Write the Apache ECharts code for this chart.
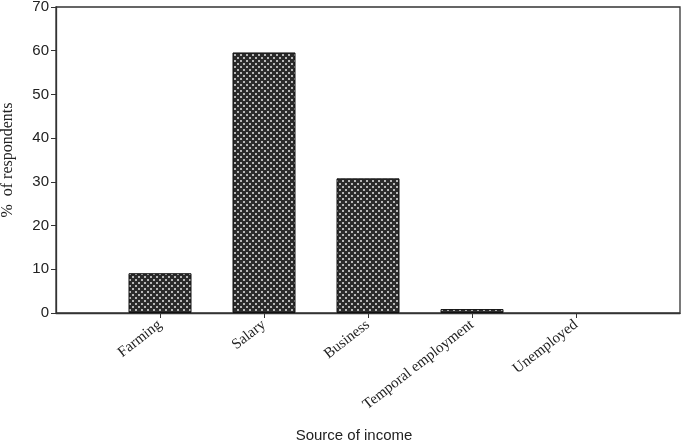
<!DOCTYPE html>
<html>
<head>
<meta charset="utf-8">
<script src="https://cdn.jsdelivr.net/npm/echarts@6/dist/echarts.min.js"></script>
<style>
  html, body { margin: 0; padding: 0; background: #fff; }
  #chart { width: 685px; height: 445px; }
</style>
</head>
<body>
<div id="chart"></div>
<script>
// empty slots at both ends keep the bars where the original axis puts them
const categories = ['', 'Farming', 'Salary', 'Business', 'Temporal employment', 'Unemployed', '']
const percentValues = [null, 9.1, 59.6, 30.8, 0.9, null, null]
const yTicks = { min: 0, max: 70, interval: 10 }

// dotted fill like the printed bars
function makePattern() {
  const c = document.createElement('canvas')
  c.width = 6
  c.height = 6
  const ctx = c.getContext('2d')
  ctx.fillStyle = '#2b2b2b'
  ctx.fillRect(0, 0, 6, 6)
  ctx.fillStyle = '#b8b8b8'
  ctx.fillRect(0, 0, 2, 2)
  ctx.fillRect(3, 3, 2, 2)
  return c
}

const chart = echarts.init(document.getElementById('chart'), null, { renderer: 'canvas' })
const lastIdx = categories.length - 1

chart.setOption({
  backgroundColor: '#fff',
  animation: false,
  grid: {
    left: 56,
    top: 7,
    right: 5,
    bottom: 132,
    outerBoundsMode: 'none',
    containLabel: false,
    show: true,
    borderColor: '#333',
    borderWidth: 1.3,
    backgroundColor: 'transparent'
  },
  xAxis: {
    type: 'category',
    data: categories,
    boundaryGap: false,
    name: 'Source of income',
    nameLocation: 'middle',
    nameGap: 115,
    nameTextStyle: { fontFamily: 'Liberation Sans', fontSize: 15, color: '#222', padding: [0, 28, 0, 0] },
    axisLine: { lineStyle: { color: '#333', width: 1.3 } },
    axisTick: {
      length: 5,
      lineStyle: { color: '#333' },
      interval: function (idx) { return idx !== 0 && idx !== lastIdx }
    },
    axisLabel: {
      interval: 0,
      rotate: 38,
      margin: 10,
      fontFamily: 'Liberation Serif',
      fontSize: 15,
      color: '#222'
    },
    splitLine: { show: false }
  },
  yAxis: {
    type: 'value',
    min: yTicks.min,
    max: yTicks.max,
    interval: yTicks.interval,
    name: '%  of respondents',
    nameLocation: 'middle',
    nameGap: 40,
    nameTextStyle: { fontFamily: 'Liberation Serif', fontSize: 16, color: '#222' },
    axisLine: { show: true, lineStyle: { color: '#333', width: 1.3 } },
    axisTick: { show: true, length: 5, lineStyle: { color: '#333' } },
    axisLabel: { fontFamily: 'Liberation Sans', fontSize: 15, color: '#222', margin: 7 },
    splitLine: { show: false }
  },
  series: [
    {
      type: 'bar',
      data: percentValues,
      barWidth: 63,
      itemStyle: {
        color: { image: makePattern(), repeat: 'repeat' },
        borderColor: '#111',
        borderWidth: 1
      }
    }
  ]
})
</script>
</body>
</html>
